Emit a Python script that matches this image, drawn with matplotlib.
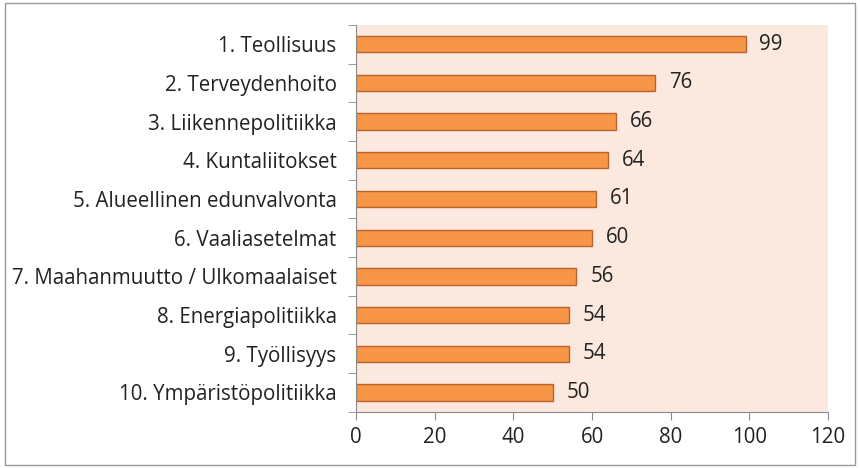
import matplotlib
matplotlib.use('Agg')
import matplotlib.pyplot as plt
from matplotlib.patches import Rectangle

plt.rcParams['font.family'] = ['Open Sans', 'DejaVu Sans']

categories = ['1. Teollisuus', '2. Terveydenhoito', '3. Liikennepolitiikka',
              '4. Kuntaliitokset', '5. Alueellinen edunvalvonta', '6. Vaaliasetelmat',
              '7. Maahanmuutto / Ulkomaalaiset', '8. Energiapolitiikka',
              '9. Työllisyys', '10. Ympäristöpolitiikka']
values = [99, 76, 66, 64, 61, 60, 56, 54, 54, 50]
x_ticks = [0, 20, 40, 60, 80, 100, 120]

fs = 14.8
fig = plt.figure(figsize=(8.6, 4.68), dpi=100)
ax = fig.add_axes([0.414, 0.12, 0.549, 0.827])
ax.set_facecolor('#FBE8DF')

pos = list(range(len(categories)))[::-1]
ax.barh(pos, values, height=0.42, color='#F79646', edgecolor='#B9632C', linewidth=1.0)
for p, v in zip(pos, values):
    ax.text(v + 3.5, p, str(v), va='center', ha='left', fontsize=fs, color='#222222')

ax.set_xlim(0, 120)
ax.set_ylim(-0.5, len(categories) - 0.5)
ax.set_xticks(x_ticks)
ax.set_xticklabels([str(t) for t in x_ticks], fontsize=fs, color='#222222')
ax.set_yticks(pos)
ax.set_yticklabels(categories, fontsize=fs, color='#222222')
ax.set_yticks([i - 0.5 for i in range(len(categories) + 1)], minor=True)
ax.tick_params(axis='y', which='major', length=0, pad=14)
ax.tick_params(axis='y', which='minor', length=6, color='#8C8C8C', direction='out')
ax.tick_params(axis='x', length=6, color='#8C8C8C', direction='out', pad=5)

for s in ['top', 'right']:
    ax.spines[s].set_visible(False)
for s in ['left', 'bottom']:
    ax.spines[s].set_color('#8C8C8C')

fig.patches.append(Rectangle((0.006, 0.006), 0.988, 0.988, transform=fig.transFigure,
                             fill=False, edgecolor='#9A9A9A', linewidth=1.0))

fig.savefig('out.png', dpi=100)
